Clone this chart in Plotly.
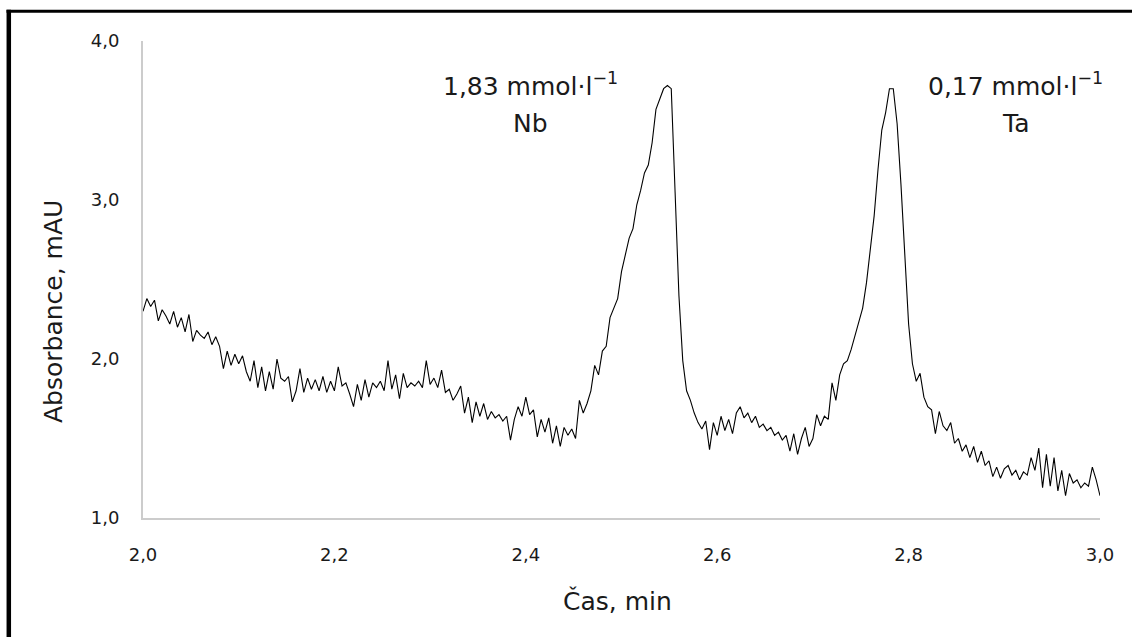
import plotly.graph_objects as go

# Time sampling of the trace (min)
T_START = 2.0
T_STEP = 0.004

# Absorbance (mAU), one value per T_STEP from 2.000 to 3.000 min
absorbance = [
    2.30, 2.38, 2.33, 2.37, 2.24, 2.31, 2.27, 2.22, 2.30, 2.20,
    2.26, 2.17, 2.28, 2.11, 2.18, 2.15, 2.13, 2.17, 2.09, 2.14,
    2.08, 1.94, 2.05, 1.96, 2.03, 1.97, 2.02, 1.92, 1.86, 1.99,
    1.82, 1.95, 1.80, 1.92, 1.81, 2.00, 1.88, 1.86, 1.89, 1.73,
    1.80, 1.94, 1.79, 1.88, 1.81, 1.87, 1.80, 1.89, 1.79, 1.86,
    1.80, 1.95, 1.83, 1.85, 1.78, 1.70, 1.84, 1.74, 1.87, 1.76,
    1.85, 1.82, 1.86, 1.80, 1.99, 1.81, 1.90, 1.75, 1.91, 1.82,
    1.85, 1.83, 1.86, 1.82, 1.99, 1.84, 1.88, 1.82, 1.93, 1.79,
    1.81, 1.74, 1.78, 1.83, 1.66, 1.76, 1.60, 1.73, 1.64, 1.72,
    1.62, 1.67, 1.63, 1.65, 1.61, 1.64, 1.49, 1.62, 1.70, 1.64,
    1.76, 1.65, 1.68, 1.51, 1.62, 1.54, 1.63, 1.47, 1.58, 1.45,
    1.57, 1.52, 1.56, 1.50, 1.74, 1.66, 1.72, 1.80, 1.96, 1.90,
    2.05, 2.08, 2.26, 2.32, 2.38, 2.55, 2.66, 2.76, 2.82, 2.97,
    3.06, 3.17, 3.22, 3.36, 3.57, 3.64, 3.70, 3.72, 3.70, 3.05,
    2.40, 1.99, 1.80, 1.74, 1.66, 1.60, 1.56, 1.61, 1.43, 1.60,
    1.52, 1.64, 1.55, 1.62, 1.53, 1.66, 1.70, 1.63, 1.66, 1.60,
    1.64, 1.57, 1.59, 1.55, 1.57, 1.52, 1.54, 1.49, 1.52, 1.42,
    1.53, 1.40, 1.50, 1.57, 1.45, 1.50, 1.65, 1.58, 1.64, 1.62,
    1.85, 1.74, 1.90, 1.97, 1.99, 2.06, 2.15, 2.24, 2.32, 2.48,
    2.68, 2.90, 3.19, 3.44, 3.55, 3.70, 3.70, 3.48, 3.10, 2.62,
    2.22, 1.97, 1.86, 1.91, 1.76, 1.70, 1.68, 1.53, 1.67, 1.58,
    1.55, 1.60, 1.47, 1.50, 1.42, 1.46, 1.38, 1.45, 1.35, 1.42,
    1.33, 1.36, 1.26, 1.32, 1.25, 1.31, 1.33, 1.27, 1.30, 1.24,
    1.29, 1.27, 1.38, 1.30, 1.44, 1.19, 1.40, 1.20, 1.38, 1.17,
    1.30, 1.14, 1.28, 1.22, 1.24, 1.19, 1.22, 1.20, 1.32, 1.24,
    1.14,
]

x_ticks = [2.0, 2.2, 2.4, 2.6, 2.8, 3.0]
x_ticklabels = ["2,0", "2,2", "2,4", "2,6", "2,8", "3,0"]
y_ticks = [1.0, 2.0, 3.0, 4.0]
y_ticklabels = ["1,0", "2,0", "3,0", "4,0"]

x_title = "Čas, min"
y_title = "Absorbance, mAU"

conc_labels = ["1,83 mmol·l<sup>−1</sup>", "0,17 mmol·l<sup>−1</sup>"]
element_labels = ["Nb", "Ta"]
label_time = [2.405, 2.912]

FONT = "DejaVu Sans"
TXT = "#1a1a1a"

fig = go.Figure()
fig.add_trace(go.Scatter(
    x0=T_START, dx=T_STEP, y=absorbance, mode="lines",
    line=dict(color="black", width=1.1), showlegend=False, hoverinfo="skip",
))

W, H = 1132, 637
L, R, T, B = 143, 32, 41, 119
pw, ph = W - L - R, H - T - B

def px(xp):
    return (xp - L) / pw

def py(yp):
    return (H - B - yp) / ph

axis_common = dict(showgrid=False, zeroline=False, showline=True,
                   linecolor="#cccccc", linewidth=2, ticks="outside",
                   tickcolor="rgba(0,0,0,0)",
                   tickfont=dict(family=FONT, size=18, color=TXT))

fig.update_xaxes(range=[2.0, 3.0], tickvals=x_ticks, ticktext=x_ticklabels,
                 ticklen=19, **axis_common)
fig.update_yaxes(range=[1.0, 4.0], tickvals=y_ticks, ticktext=y_ticklabels,
                 ticklen=18, **axis_common)

annotations = [
    dict(text=x_title, xref="paper", yref="paper", x=px(617), y=py(601),
         showarrow=False, font=dict(family=FONT, size=25, color=TXT),
         xanchor="center", yanchor="middle"),
    dict(text=y_title, xref="paper", yref="paper", x=px(53), y=py(312),
         showarrow=False, textangle=-90,
         font=dict(family=FONT, size=25, color=TXT),
         xanchor="center", yanchor="middle"),
]
for conc, elem, tv in zip(conc_labels, element_labels, label_time):
    annotations.append(dict(text=conc, x=tv, y=py(84), xref="x", yref="paper",
                            showarrow=False,
                            font=dict(family=FONT, size=25, color=TXT),
                            xanchor="center", yanchor="middle"))
    annotations.append(dict(text=elem, x=tv, y=py(123), xref="x", yref="paper",
                            showarrow=False,
                            font=dict(family=FONT, size=25, color=TXT),
                            xanchor="center", yanchor="middle"))

shapes = [
    dict(type="line", xref="paper", yref="paper", x0=px(8.8), x1=px(8.8),
         y0=py(H + 20), y1=py(9.8), line=dict(color="black", width=4.5)),
    dict(type="line", xref="paper", yref="paper", x0=px(6.5), x1=px(W + 20),
         y0=py(11.3), y1=py(11.3), line=dict(color="black", width=3)),
]

fig.update_layout(
    width=W, height=H, margin=dict(l=L, r=R, t=T, b=B, autoexpand=False),
    paper_bgcolor="white", plot_bgcolor="white",
    annotations=annotations, shapes=shapes,
)

fig.write_html("out.html")
